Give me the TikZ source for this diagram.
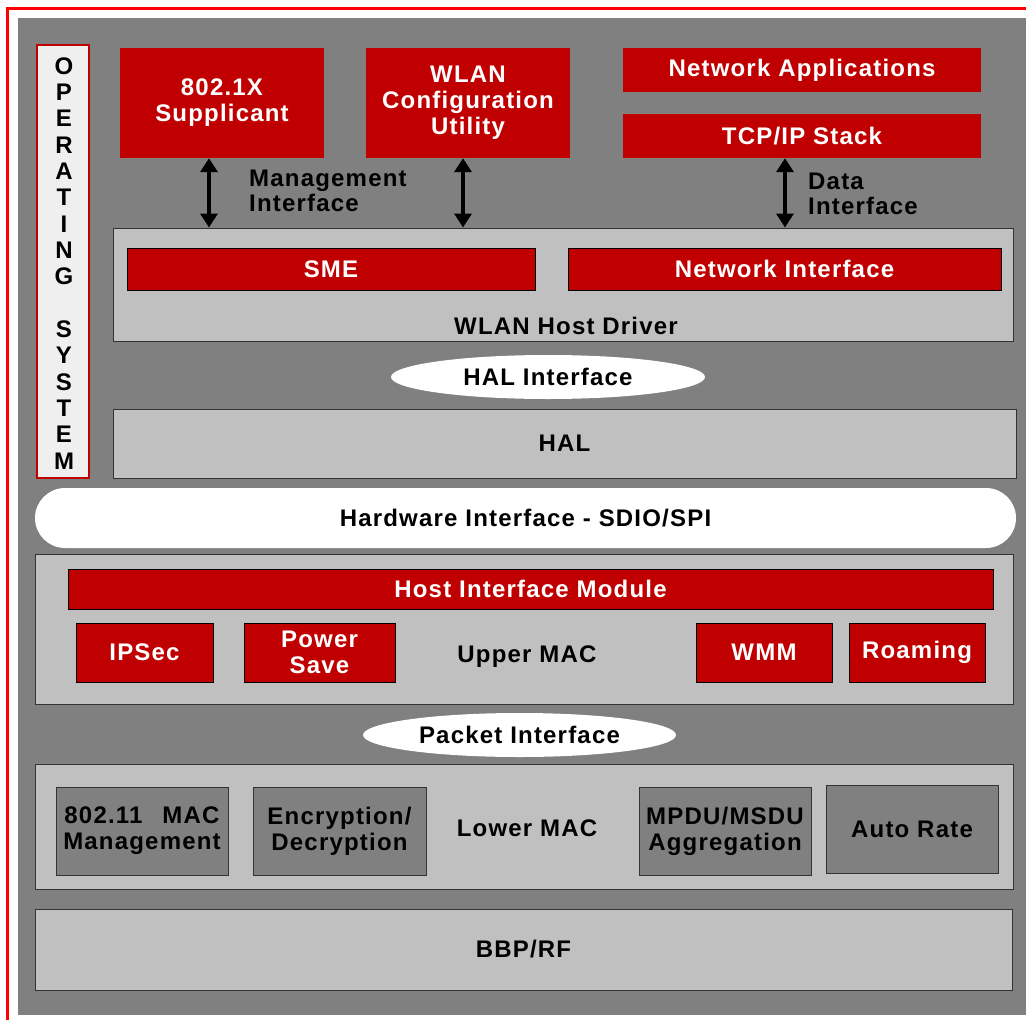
\documentclass[tikz,border=0pt]{standalone}
\usepackage{fontspec}
\setmainfont{Liberation Sans}[LetterSpace=5]
\usetikzlibrary{arrows.meta,shapes.geometric}
\definecolor{framered}{HTML}{FF0000}
\definecolor{boxred}{HTML}{C00000}
\definecolor{darkgray}{HTML}{808080}
\definecolor{lightgray}{HTML}{C0C0C0}
\definecolor{osfill}{HTML}{EFEFEF}

\begin{document}
\begin{tikzpicture}[x=1pt, y=-1pt,
  every node/.style={font=\fontsize{24}{26}\selectfont\bfseries, align=center, inner sep=0pt},
  sz/.style 2 args={minimum width=#1, minimum height=#2},
  topbox/.style={fill=boxred, text=white},
  redbox/.style={fill=boxred, draw=black, line width=1pt, text=white},
  layer/.style={fill=lightgray, draw=black!80, line width=1pt},
  graybox/.style={fill=darkgray, draw=black!80, line width=1pt},
  iface/.style={ellipse, fill=white},
  dblarrow/.style={{Triangle[width=17pt,length=14pt]}-{Triangle[width=17pt,length=14pt]}, line width=4pt}]
  \useasboundingbox (0,0) rectangle (1026,1020);
  \clip (0,0) rectangle (1026,1020);
  \fill[white] (0,0) rectangle (1026,1020);
  \draw[framered, line width=3pt] (7.5,8.5) rectangle (1040,1035);
  \fill[darkgray] (18,18) rectangle (1026,1015);

  % operating system column
  \node[sz={52}{433}, fill=osfill, draw=boxred, line width=2pt] (os) at (63,261.5) {};
  \foreach \ch [count=\i from 0] in {O,P,E,R,A,T,I,N,G,,S,Y,S,T,E,M}
    \node (os\i) at (64,{66+26.33*\i}) {\ch};

  % applications
  \node[topbox, sz={204}{110}] (supp) at (222,103) {802.1X\\Supplicant};
  \node[topbox, sz={204}{110}] (wlancfg) at (468,103) {WLAN\\Configuration\\Utility};
  \node[topbox, sz={358}{44}] (netapp) at (802,70) {Network Applications};
  \node[topbox, sz={358}{44}] (tcpip) at (802,136) {TCP/IP Stack};

  % host driver
  \node[layer, sz={900}{113}] (hostdrv) at (563,284.5) {};
  \node[redbox, sz={408}{42}] (sme) at (331,269) {SME};
  \node[redbox, sz={433}{42}] (netif) at (784.5,269) {Network Interface};
  \node (hostdrvlbl) at (566,326) {WLAN Host Driver};

  \coordinate (m1) at (209,0);
  \coordinate (m2) at (463,0);
  \coordinate (m3) at (785,0);
  \draw[dblarrow] (supp.south -| m1) -- (hostdrv.north -| m1);
  \draw[dblarrow] (wlancfg.south -| m2) -- (hostdrv.north -| m2);
  \draw[dblarrow] (tcpip.south -| m3) -- (hostdrv.north -| m3);
  \node[anchor=west, align=left, font=\fontsize{24}{25}\selectfont\bfseries] (mgmtlbl) at (249,190.5) {Management\\Interface};
  \node[anchor=west, align=left, font=\fontsize{24}{25}\selectfont\bfseries] (datalbl) at (808,193.5) {Data\\Interface};

  % HAL
  \node[iface, sz={314}{44}] (halif) at (548,377) {HAL Interface};
  \node[layer, sz={903}{69}] (hal) at (564.5,443.5) {HAL};
  \node[fill=white, rounded corners=30pt, sz={981}{60}] (hwif) at (525.5,518) {Hardware Interface - SDIO/SPI};

  % upper MAC
  \node[layer, sz={978}{150}] (uppermac) at (524,629) {};
  \node[redbox, sz={925}{40}] (him) at (530.5,589) {Host Interface Module};
  \node[redbox, sz={137}{59}] (ipsec) at (144.5,652.5) {IPSec};
  \node[redbox, sz={151}{59}] (psave) at (319.5,652.5) {Power\\Save};
  \node[redbox, sz={136}{59}] (wmm) at (764,652.5) {WMM};
  \node[redbox, sz={136}{59}] (roam) at (917,652.5) {Roaming};
  \node (upperlbl) at (527,657) {Upper MAC};

  % lower MAC
  \node[iface, sz={313}{44}] (pktif) at (519.5,735) {Packet Interface};
  \node[layer, sz={978}{125}] (lowermac) at (524,826.5) {};
  \node[graybox, sz={172}{88}] (macmgmt) at (142,831) {802.11\hspace{20pt}MAC\\Management};
  \node[graybox, sz={173}{88}] (encdec) at (339.5,831) {Encryption/\\Decryption};
  \node[graybox, sz={172}{88}] (mpdu) at (725,831) {MPDU/MSDU\\Aggregation};
  \node[graybox, sz={172}{88}] (autorate) at (912,829) {Auto Rate};
  \node (lowerlbl) at (527,828) {Lower MAC};

  \node[layer, sz={977}{81}] (bbp) at (523.5,949.5) {BBP/RF};
\end{tikzpicture}
\end{document}
